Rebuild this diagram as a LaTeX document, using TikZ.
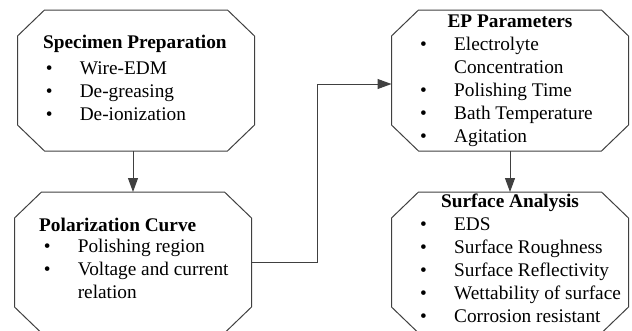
\documentclass[tikz,border=0pt]{standalone}
\usepackage{fontspec}
\setmainfont{Liberation Serif}
\usetikzlibrary{arrows.meta,calc,positioning}
\definecolor{LineGray}{RGB}{64,64,64}

\tikzset{
  area/.style={minimum width=237pt,minimum height=141pt,inner sep=0pt,outer sep=0pt},
  outline/.style={draw=LineGray,line width=1pt},
  head/.style={font=\fontsize{19.3}{23}\selectfont\bfseries,inner sep=0pt},
  items/.style={font=\fontsize{19.3}{23}\selectfont,align=left,inner sep=0pt,anchor=base west},
  flow/.style={draw=LineGray,line width=1pt,-{Triangle[length=14pt,width=10pt]}}
}
\newcommand{\itm}{\makebox[34pt][l]{\textbullet}}
\newcommand{\cnt}{\hspace*{34pt}}

\begin{document}
\begin{tikzpicture}[x=1pt,y=-1pt]
  \useasboundingbox (0,0) rectangle (632,330);
  \clip (0,0) rectangle (632,330);
  % box areas
  \node[area] (spec) at (136,80.5) {};
  \node[area] (polar) at (133,262.5) {};
  \node[area] (epp) at (510,80.5) {};
  \node[area] (surf) at (510,262.5) {};
  \foreach \b in {spec,polar,epp,surf}
    \draw[outline] ([xshift=27pt]\b.north west) -- ([xshift=-27pt]\b.north east)
      -- ([yshift=-26pt]\b.north east) -- ([yshift=26pt]\b.south east)
      -- ([xshift=-27pt]\b.south east) -- ([xshift=27pt]\b.south west)
      -- ([yshift=26pt]\b.south west) -- ([yshift=-26pt]\b.north west) -- cycle;
  % texts (lists anchored on their last baseline)
  \node[head,anchor=base west] (spectitle) at (43,48) {Specimen Preparation};
  \node[items] (speclist) at (45.6,120) {\itm Wire-EDM\\ \itm De-greasing\\ \itm De-ionization};
  \node[head,anchor=base west] (polartitle) at (39,231) {Polarization Curve};
  \node[items] (polarlist) at (43.6,298) {\itm Polishing region\\ \itm Voltage and current\\ \cnt relation};
  \node[head,anchor=base] (epptitle) at (510,27) {EP Parameters};
  \node[items] (epplist) at (420,142) {\itm Electrolyte\\ \cnt Concentration\\ \itm Polishing Time\\
    \itm Bath Temperature\\ \itm Agitation};
  \node[head,anchor=base] (surftitle) at (510,207) {Surface Analysis};
  \node[items] (surflist) at (420,322) {\itm EDS\\ \itm Surface Roughness\\ \itm Surface Reflectivity\\
    \itm Wettability of surface\\ \itm Corrosion resistant};
  % connectors
  \draw[flow] (polar.north |- spec.south) -- (polar.north);
  \coordinate (turn) at (317,84);
  \draw[flow] (polar.east) -| (turn) -- (turn -| epp.west);
  \draw[flow] (epp.south) -- (surf.north);
\end{tikzpicture}
\end{document}
